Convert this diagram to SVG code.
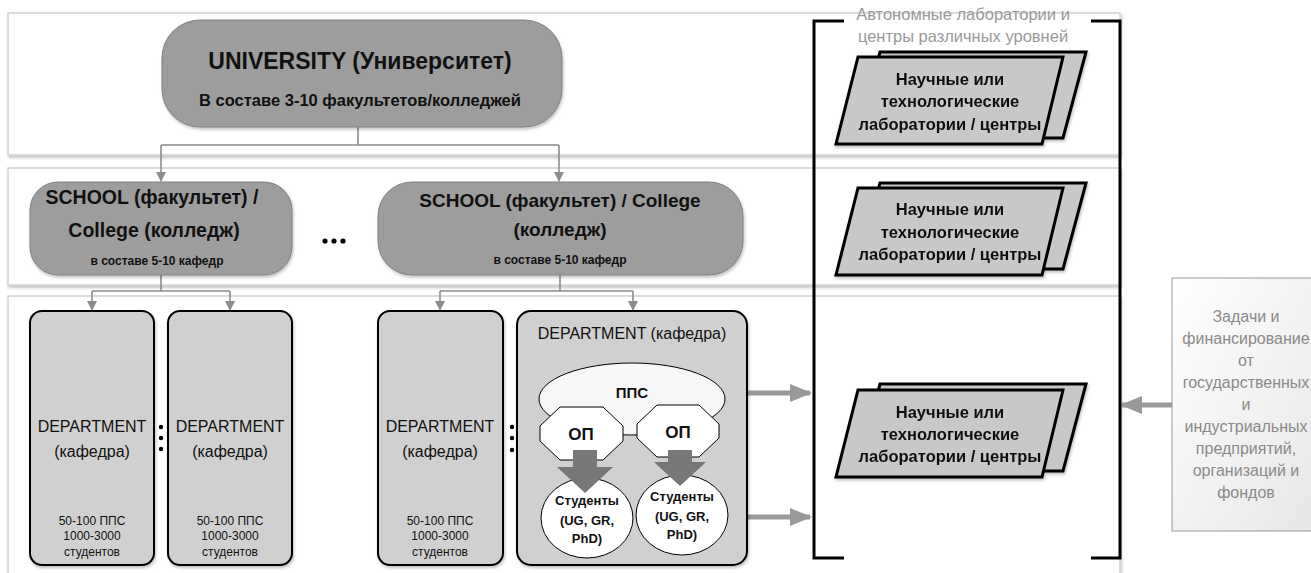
<svg xmlns="http://www.w3.org/2000/svg" width="1311" height="573" viewBox="0 0 1311 573">
<style>
text{font-family:"Liberation Sans",Arial,sans-serif;text-anchor:middle;fill:#111}
.b{font-weight:bold}
.band{fill:#fff;stroke:#d2d2d2;stroke-width:1.5}
.big{fill:#9d9d9d;stroke:#808080;stroke-width:1}
.dep{fill:#d0d0d0;stroke:#000;stroke-width:2}
.lab{fill:#c8c8c8;stroke:#000;stroke-width:3;stroke-linejoin:miter}
.con{fill:none;stroke:#8c8c8c;stroke-width:1.6}
.thick{fill:none;stroke:#999;stroke-width:5}
.brk{fill:none;stroke:#000;stroke-width:3}
.labt{font-weight:bold;font-size:16.5px}
.cap{fill:#9a9a9a;font-size:16.5px}
.fund{fill:#8a8a8a;font-size:16px}
</style>
<defs>
<filter id="sh" x="-10%" y="-10%" width="120%" height="130%">
<feDropShadow dx="1" dy="2" stdDeviation="1.5" flood-color="#000" flood-opacity="0.25"/>
</filter>
<marker id="ah" markerWidth="10" markerHeight="10" refX="9" refY="5" orient="auto" markerUnits="userSpaceOnUse">
<path d="M0,0 L10,5 L0,10 z" fill="#8c8c8c"/>
</marker>
<marker id="ab" markerWidth="22" markerHeight="18" refX="20" refY="9" orient="auto" markerUnits="userSpaceOnUse">
<path d="M0,0 L22,9 L0,18 z" fill="#999"/>
</marker>
<linearGradient id="gr" x1="0" y1="0" x2="1" y2="1">
<stop offset="0" stop-color="#ffffff"/>
<stop offset="1" stop-color="#e6e6e6"/>
</linearGradient>
</defs>

<g id="bands">
<rect class="band" x="8" y="13" width="1112" height="142" filter="url(#sh)"/>
<rect class="band" x="8" y="168" width="1112" height="117" filter="url(#sh)"/>
<rect class="band" x="8" y="296" width="1112" height="290" filter="url(#sh)"/>
</g>

<g id="connectors">
<path class="con" d="M358,127 V145 M161,145 H559"/>
<path class="con" d="M161,145 V181" marker-end="url(#ah)"/>
<path class="con" d="M559,145 V181" marker-end="url(#ah)"/>
<path class="con" d="M161,275 V291 H92 M161,291 H230"/>
<path class="con" d="M92,291 V310" marker-end="url(#ah)"/>
<path class="con" d="M230,291 V310" marker-end="url(#ah)"/>
<path class="con" d="M560,275 V291 H440 M560,291 H633"/>
<path class="con" d="M440,291 V310" marker-end="url(#ah)"/>
<path class="con" d="M633,291 V310" marker-end="url(#ah)"/>
<path class="thick" d="M727,393 H810" marker-end="url(#ab)"/>
<path class="thick" d="M727,517 H810" marker-end="url(#ab)"/>
<path class="thick" d="M1172,405 H1122" marker-end="url(#ab)"/>
</g>

<g id="university">
<rect class="big" x="162" y="20" width="400" height="107" rx="38" filter="url(#sh)"/>
<text class="b" x="360" y="69" font-size="23">UNIVERSITY (Университет)</text>
<text class="b" x="360" y="106" font-size="16.5">В составе 3-10 факультетов/колледжей</text>
</g>

<g id="school1">
<rect class="big" x="30" y="182" width="262" height="93" rx="28" filter="url(#sh)"/>
<text class="b" x="152" y="204" font-size="19.5">SCHOOL (факультет) /</text>
<text class="b" x="154" y="237" font-size="19.5">College (колледж)</text>
<text class="b" x="157" y="265" font-size="12">в составе 5-10 кафедр</text>
</g>

<g id="ellipsis" fill="#000"><circle cx="325" cy="241" r="2.6"/><circle cx="334" cy="241" r="2.6"/><circle cx="343" cy="241" r="2.6"/></g>

<g id="school2">
<rect class="big" x="378" y="182" width="365" height="93" rx="34" filter="url(#sh)"/>
<text class="b" x="560" y="207" font-size="19">SCHOOL (факультет) / College</text>
<text class="b" x="560" y="236" font-size="19">(колледж)</text>
<text class="b" x="560" y="264" font-size="12">в составе 5-10 кафедр</text>
</g>

<g id="dept1">
<rect class="dep" x="30" y="311" width="124" height="254" rx="12" filter="url(#sh)"/>
<text x="92" y="432" font-size="16">DEPARTMENT</text>
<text x="92" y="457" font-size="16">(кафедра)</text>
<text x="92" y="525" font-size="12">50-100 ППС</text>
<text x="92" y="540" font-size="12">1000-3000</text>
<text x="92" y="556" font-size="12">студентов</text>
</g>
<g id="dots1" fill="#000"><circle cx="161" cy="427" r="2.2"/><circle cx="161" cy="438" r="2.2"/><circle cx="161" cy="449" r="2.2"/></g>

<g id="dept2">
<rect class="dep" x="168" y="311" width="124" height="254" rx="12" filter="url(#sh)"/>
<text x="230" y="432" font-size="16">DEPARTMENT</text>
<text x="230" y="457" font-size="16">(кафедра)</text>
<text x="230" y="525" font-size="12">50-100 ППС</text>
<text x="230" y="540" font-size="12">1000-3000</text>
<text x="230" y="556" font-size="12">студентов</text>
</g>

<g id="dept3">
<rect class="dep" x="378" y="311" width="125" height="254" rx="12" filter="url(#sh)"/>
<text x="440" y="432" font-size="16">DEPARTMENT</text>
<text x="440" y="457" font-size="16">(кафедра)</text>
<text x="440" y="525" font-size="12">50-100 ППС</text>
<text x="440" y="540" font-size="12">1000-3000</text>
<text x="440" y="556" font-size="12">студентов</text>
</g>
<g id="dots2" fill="#000"><circle cx="512" cy="427" r="2.2"/><circle cx="512" cy="438" r="2.2"/><circle cx="512" cy="450" r="2.2"/></g>

<g id="dept4">
<rect class="dep" x="517" y="311" width="230" height="254" rx="14" filter="url(#sh)"/>
<text x="632" y="339" font-size="16">DEPARTMENT (кафедра)</text>
</g>

<g id="pps">
<ellipse cx="632" cy="399" rx="93" ry="36" fill="#f7f7f7" stroke="#000" stroke-width="1"/>
<text class="b" x="632" y="398" font-size="15">ППС</text>
</g>

<g id="op1">
<polygon points="560,407 603,407 623,426 623,441 603,460 560,460 540,441 540,426" fill="#fff" stroke="#000" stroke-width="1"/>
<text class="b" x="581" y="440" font-size="17">ОП</text>
</g>
<g id="op2">
<polygon points="657,405 699,405 719,424 719,438 699,457 657,457 637,438 637,424" fill="#fff" stroke="#000" stroke-width="1"/>
<text class="b" x="678" y="438" font-size="17">ОП</text>
</g>

<g id="st1">
<ellipse cx="587" cy="518" rx="46" ry="40" fill="#fff" stroke="#000" stroke-width="1"/>
<text class="b" x="587" y="505" font-size="13">Студенты</text>
<text class="b" x="587" y="525" font-size="13">(UG, GR,</text>
<text class="b" x="587" y="543" font-size="13">PhD)</text>
</g>
<g id="st2">
<ellipse cx="682" cy="515" rx="46" ry="40" fill="#fff" stroke="#000" stroke-width="1"/>
<text class="b" x="682" y="501" font-size="13">Студенты</text>
<text class="b" x="682" y="521" font-size="13">(UG, GR,</text>
<text class="b" x="682" y="539" font-size="13">PhD)</text>
</g>

<g id="flow-arrows" fill="#777">
<path d="M573,450 H597 V467 H613 L585,493 L557,467 H573 Z"/>
<path d="M668,450 H692 V462 H706 L680,486 L654,462 H668 Z"/>
</g>

<g id="bracket">
<path class="brk" d="M844,21 H814 V558 H844"/>
<path class="brk" d="M1091,21 H1120 V558 H1091"/>
<text class="cap" x="963" y="20">Автономные лаборатории и</text>
<text class="cap" x="963" y="42">центры различных уровней</text>
</g>

<g id="lab1" filter="url(#sh)">
<polygon class="lab" points="880,52 1086,52 1063,138 857,138"/>
<polygon class="lab" points="858,57 1063,57 1042,144 836,144"/>
<text class="labt" x="950" y="85">Научные или</text>
<text class="labt" x="950" y="107">технологические</text>
<text class="labt" x="950" y="130">лаборатории / центры</text>
</g>
<g id="lab2" filter="url(#sh)">
<polygon class="lab" points="880,183 1086,183 1063,269 857,269"/>
<polygon class="lab" points="858,188 1063,188 1042,275 836,275"/>
<text class="labt" x="950" y="215">Научные или</text>
<text class="labt" x="950" y="238">технологические</text>
<text class="labt" x="950" y="260">лаборатории / центры</text>
</g>
<g id="lab3" filter="url(#sh)">
<polygon class="lab" points="880,384 1086,384 1063,471 857,471"/>
<polygon class="lab" points="858,390 1063,390 1042,477 836,477"/>
<text class="labt" x="950" y="418">Научные или</text>
<text class="labt" x="950" y="440">технологические</text>
<text class="labt" x="950" y="462">лаборатории / центры</text>
</g>

<g id="funding">
<rect x="1172" y="278" width="150" height="253" fill="url(#gr)" stroke="#9a9a9a" stroke-width="1"/>
<text class="fund" x="1246" y="322">Задачи и</text>
<text class="fund" x="1246" y="344">финансирование</text>
<text class="fund" x="1246" y="366">от</text>
<text class="fund" x="1246" y="388">государственных</text>
<text class="fund" x="1246" y="410">и</text>
<text class="fund" x="1246" y="432">индустриальных</text>
<text class="fund" x="1246" y="454">предприятий,</text>
<text class="fund" x="1246" y="476">организаций и</text>
<text class="fund" x="1246" y="498">фондов</text>
</g>
</svg>
